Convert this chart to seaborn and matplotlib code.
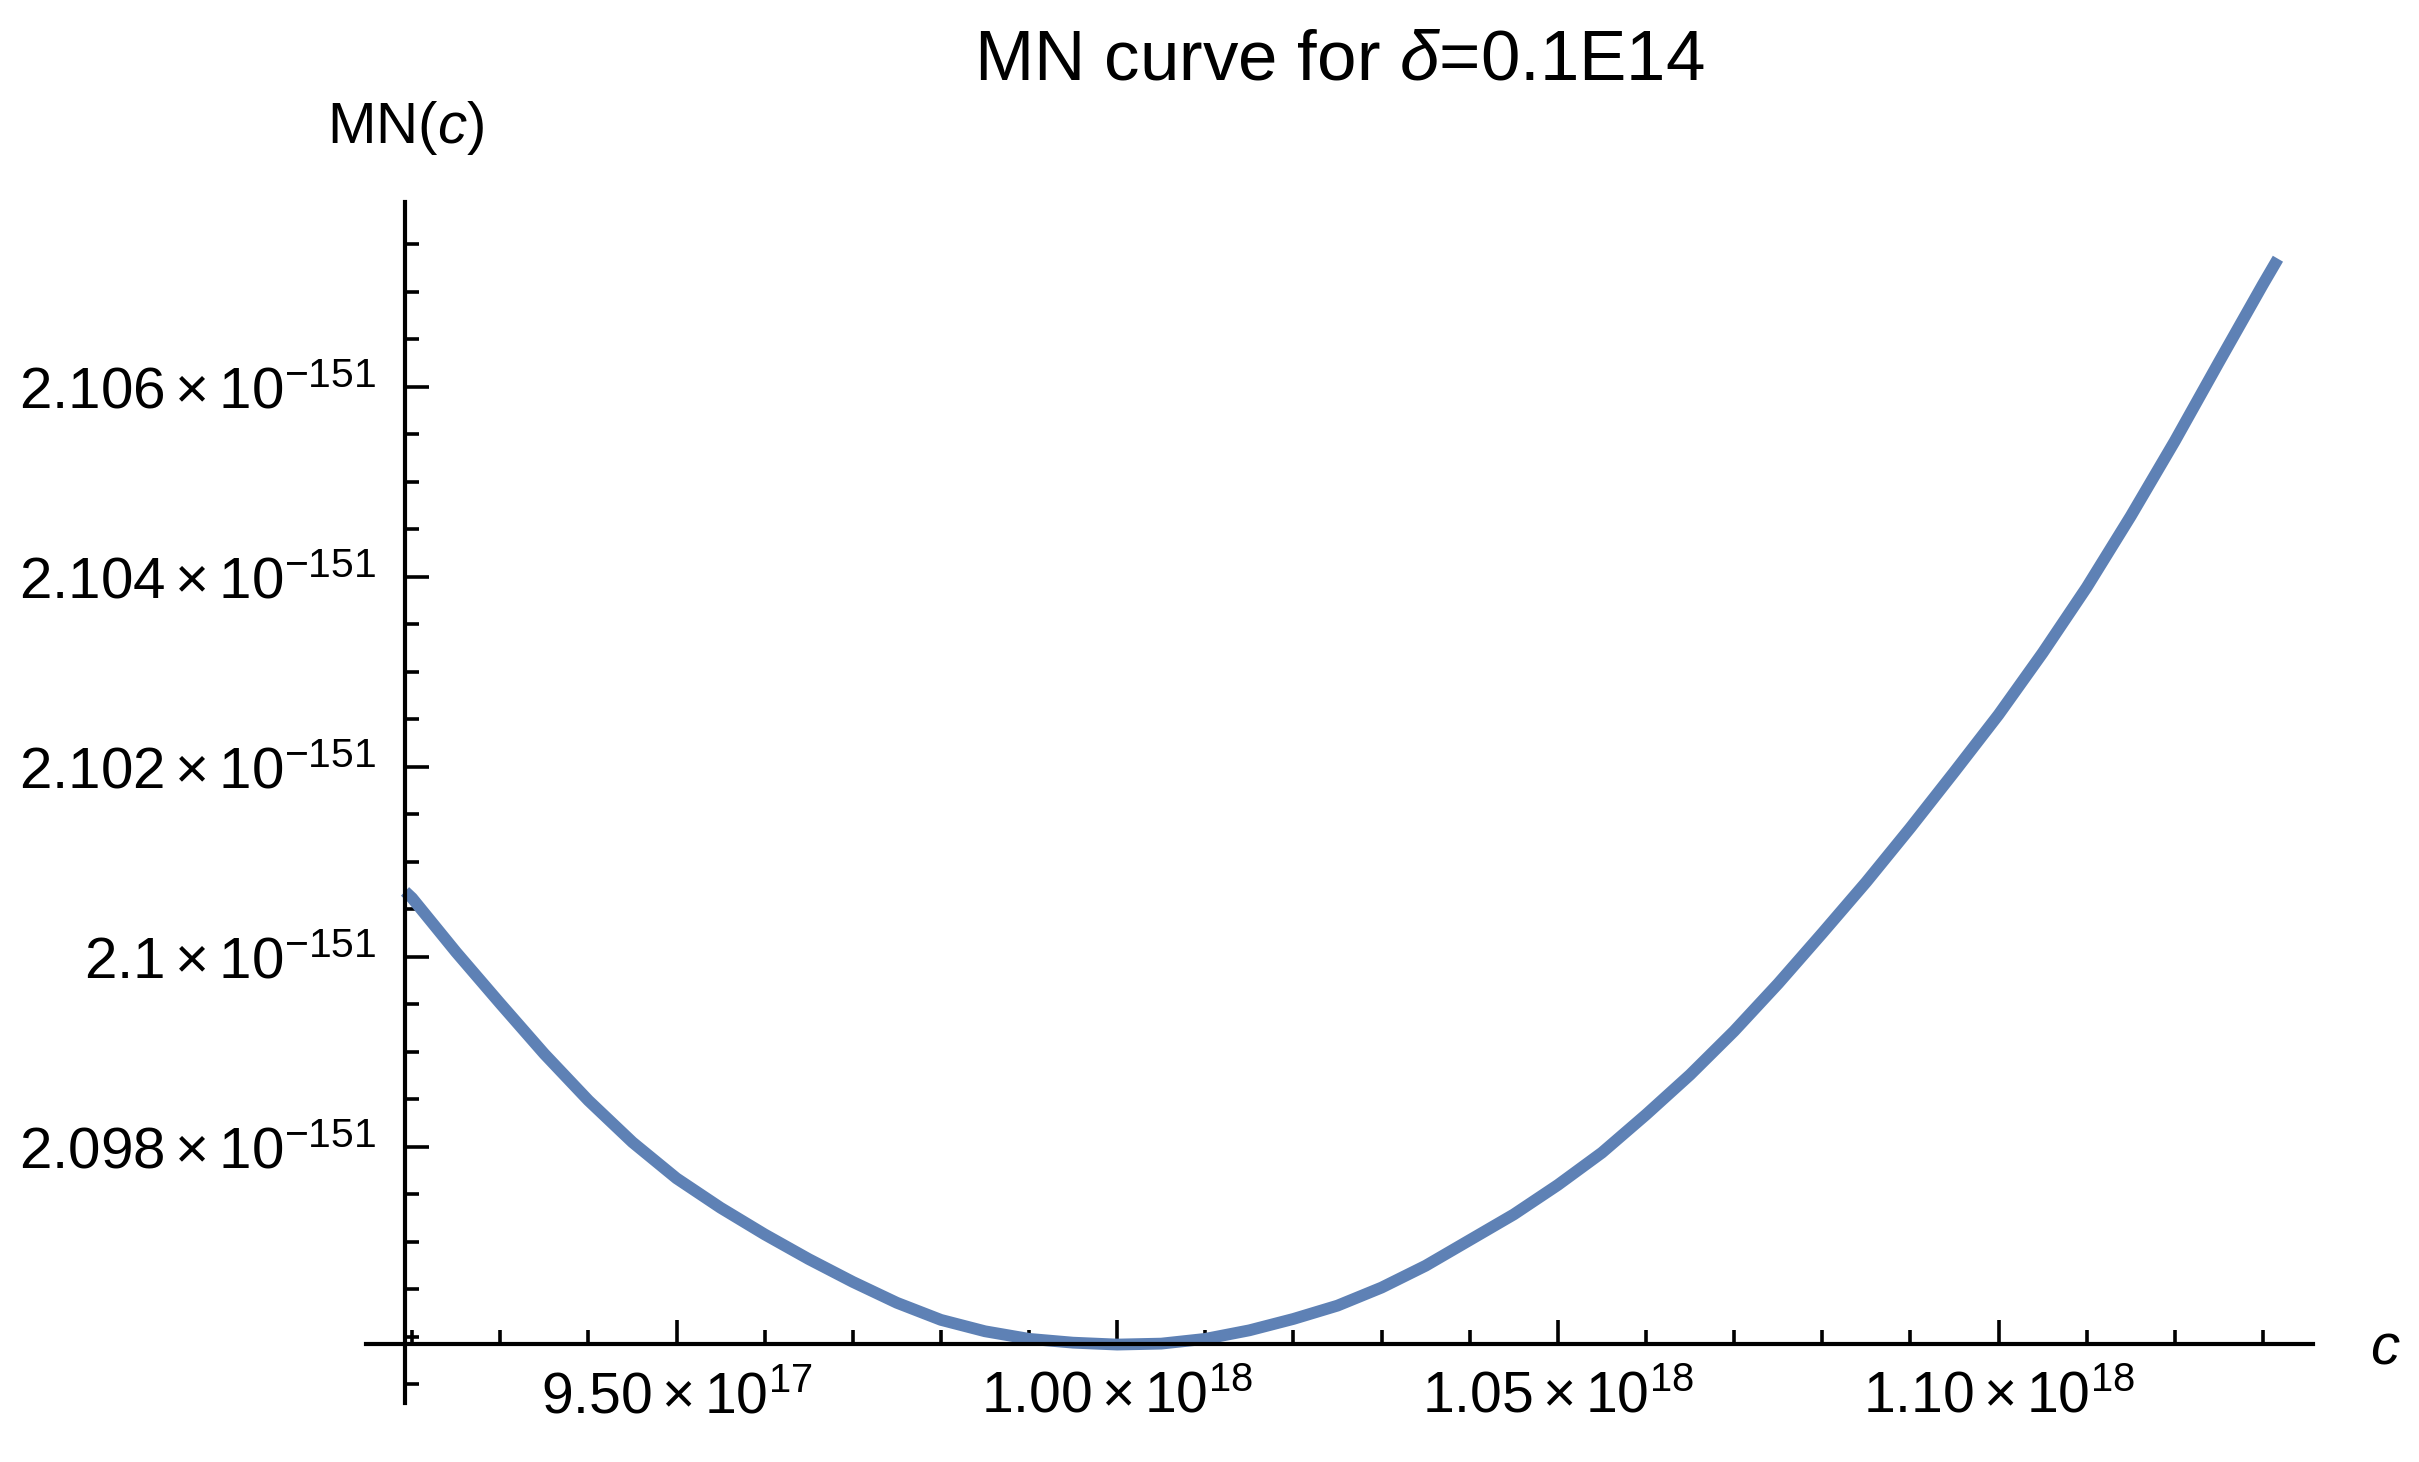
import matplotlib
matplotlib.use("Agg")
import matplotlib.pyplot as plt
import numpy as np
import pandas as pd
import seaborn as sns

# c in units of 1e18, MN(c) in units of 1e-151
c_values = [0.9192, 0.920, 0.925, 0.930, 0.935, 0.940, 0.945, 0.950, 0.955, 0.960,
            0.965, 0.970, 0.975, 0.980, 0.985, 0.990, 0.995, 1.000, 1.005, 1.010,
            1.015, 1.020, 1.025, 1.030, 1.035, 1.040, 1.045, 1.050, 1.055, 1.060,
            1.065, 1.070, 1.075, 1.080, 1.085, 1.090, 1.095, 1.100, 1.105, 1.110,
            1.115, 1.120, 1.125, 1.130, 1.1317]
mn_values = [2.10069, 2.10062, 2.10005, 2.09951, 2.09898, 2.09849, 2.09805, 2.09767, 2.09736, 2.09708,
             2.09682, 2.09658, 2.09636, 2.09618, 2.09606, 2.09598, 2.09594, 2.09592, 2.09593, 2.09598,
             2.09607, 2.09619, 2.09633, 2.09652, 2.09675, 2.09702, 2.09729, 2.09760, 2.09794, 2.09834,
             2.09876, 2.09922, 2.09972, 2.10025, 2.10079, 2.10136, 2.10195, 2.10255, 2.10320, 2.10389,
             2.10464, 2.10543, 2.10626, 2.10708, 2.10735]

x_major = [0.95, 1.00, 1.05, 1.10]
x_major_labels = [r'$9.50\times10^{17}$', r'$1.00\times10^{18}$',
                  r'$1.05\times10^{18}$', r'$1.10\times10^{18}$']
y_major = [2.098, 2.100, 2.102, 2.104, 2.106]
y_major_labels = [r'$2.098\times10^{-151}$', r'$2.1\times10^{-151}$',
                  r'$2.102\times10^{-151}$', r'$2.104\times10^{-151}$',
                  r'$2.106\times10^{-151}$']

title_text = r'MN curve for $\delta$=0.1E14'
ylabel_text = r'MN($c$)'
xlabel_text = r'$c$'

line_color = '#5E81B5'

sns.set_style('ticks')
plt.rcParams['font.family'] = ['Liberation Sans', 'DejaVu Sans']
plt.rcParams['mathtext.fontset'] = 'custom'
plt.rcParams['mathtext.rm'] = 'Liberation Sans'
plt.rcParams['mathtext.it'] = 'Liberation Sans:italic'
plt.rcParams['mathtext.bf'] = 'Liberation Sans:bold'
plt.rcParams['text.color'] = 'black'
plt.rcParams['xtick.color'] = 'black'
plt.rcParams['ytick.color'] = 'black'
plt.rcParams['axes.edgecolor'] = 'black'

df = pd.DataFrame({'c': c_values, 'mn': mn_values})

fig = plt.figure(figsize=(24.19, 14.62), dpi=100)
ax = fig.add_axes([366 / 2419, 1 - 1403 / 1462, (2313 - 366) / 2419, (1403 - 202) / 1462])

sns.lineplot(data=df, x='c', y='mn', color=line_color, linewidth=8.5, ax=ax,
             solid_capstyle='butt', solid_joinstyle='round')

ax.set_xlim(0.91477, 1.13568)
ax.set_ylim(2.095305, 2.107947)

# Mathematica-style crossing axes
ax.spines['left'].set_position(('data', 0.9192))
ax.spines['bottom'].set_position(('data', 2.09593))
ax.spines['top'].set_visible(False)
ax.spines['right'].set_visible(False)
for s in ['left', 'bottom']:
    ax.spines[s].set_linewidth(3.0)
    ax.spines[s].set_color('black')

ax.set_xticks(x_major, labels=x_major_labels)
ax.set_yticks(y_major, labels=y_major_labels)
x_minor = [round(v, 2) for v in np.arange(0.92, 1.135, 0.01) if min(abs(v - m) for m in x_major) > 1e-6]
y_minor = [round(v, 4) for v in np.arange(2.0955, 2.1076, 0.0005) if min(abs(v - m) for m in y_major) > 1e-7]
ax.set_xticks(x_minor, minor=True)
ax.set_yticks(y_minor, minor=True)

ax.tick_params(which='both', direction='in', color='black', width=2.6, labelcolor='black',
               bottom=True, left=True, top=False, right=False)
ax.tick_params(which='major', length=17.3)
ax.tick_params(which='minor', length=10.4)
ax.tick_params(axis='x', which='major', labelsize=41, pad=19)
ax.tick_params(axis='y', which='major', labelsize=42, pad=21)

ax.set_xlabel('')
ax.set_ylabel('')
ax.grid(False)

fig.text(1339 / 2419, 1 - 80 / 1462, title_text, fontsize=51, ha='center', va='baseline')
fig.text(327 / 2419, 1 - 143 / 1462, ylabel_text, fontsize=42, ha='left', va='baseline')
fig.text(2370 / 2419, 1 - 1363 / 1462, xlabel_text, fontsize=42, ha='left', va='baseline')

fig.savefig('out.png', dpi=100, facecolor='white')
